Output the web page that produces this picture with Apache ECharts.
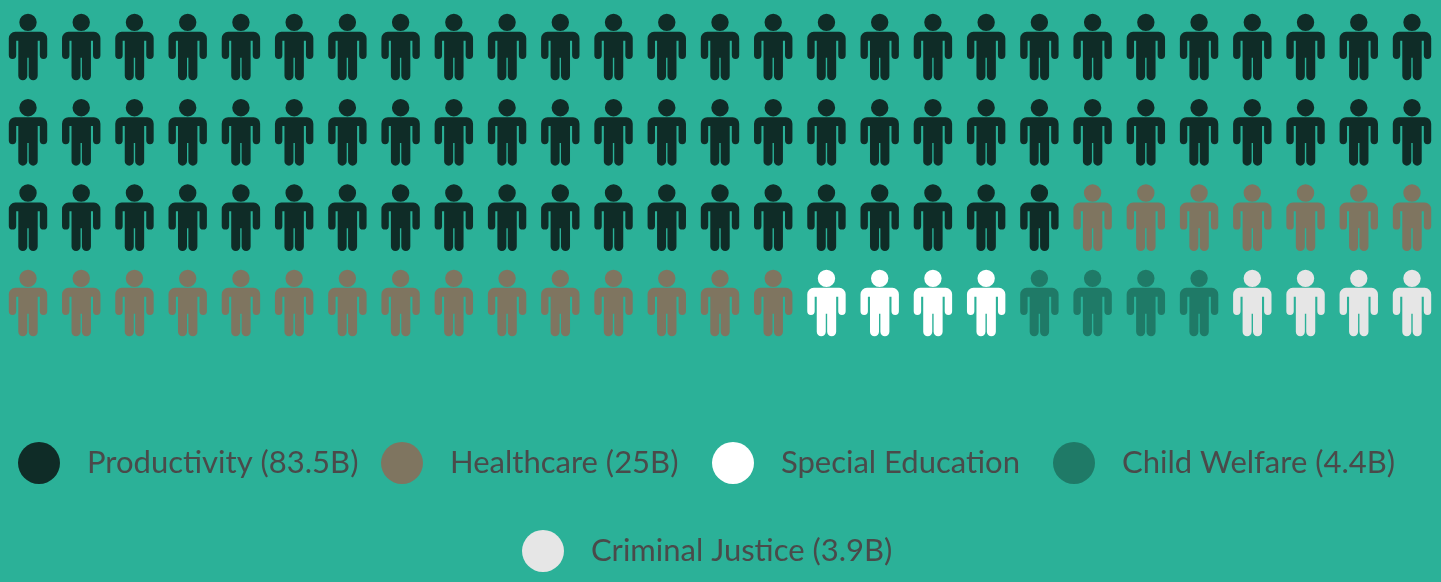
<!DOCTYPE html>
<html>
<head>
<meta charset="utf-8">
<title>Cost breakdown</title>
<script src="https://cdn.jsdelivr.net/npm/echarts@6/dist/echarts.min.js"></script>
<style>
html, body { margin: 0; padding: 0; background: #2bb198; }
#chartMain { width: 1441px; height: 582px; }
</style>
</head>
<body>
<div id="chartMain"></div>
<script>
var categories = ['Productivity (83.5B)', 'Healthcare (25B)', 'Special Education', 'Child Welfare (4.4B)', 'Criminal Justice (3.9B)'];
var peopleCounts = [74, 22, 4, 4, 4];
var colors = ['#0f2c27', '#7f7560', '#ffffff', '#1f7a67', '#e6e6e6'];
var perRow = 27;

var person = 'path://M19.2 0A8.7 8.7 0 1 1 19.2 17.4A8.7 8.7 0 1 1 19.2 0Z' +
    'M6.5 18.2H31.9A6.5 6.5 0 0 1 38.4 24.7V41.6A3.7 3.7 0 0 1 31 41.6V27H28.9V62.2A4.5 4.5 0 0 1 19.9 62.2V44H18.5V62.2A4.5 4.5 0 0 1 9.5 62.2V27H7.4V41.6A3.7 3.7 0 0 1 0 41.6V24.7A6.5 6.5 0 0 1 6.5 18.2Z';

var seriesList = [];
var n = 0;
categories.forEach(function (name, k) {
    var points = [];
    for (var i = 0; i < peopleCounts[k]; i++) {
        points.push([n % perRow, Math.floor(n / perRow)]);
        n++;
    }
    seriesList.push({
        name: name,
        type: 'scatter',
        symbol: person,
        symbolSize: [38.4, 66.7],
        itemStyle: { color: colors[k], opacity: 1 },
        clip: false,
        silent: true,
        data: points
    });
});

function legendBlock(name, left, top) {
    return {
        data: [name],
        left: left,
        top: top,
        padding: 0,
        icon: 'circle',
        itemWidth: 42,
        itemHeight: 42,
        selectedMode: false,
        textStyle: {
            color: '#4a4a4a',
            fontFamily: 'Lato',
            fontSize: 31,
            padding: [0, 0, 0, 22]
        }
    };
}

var myChart = echarts.init(document.getElementById('chartMain'));
myChart.setOption({
    animation: false,
    backgroundColor: '#2bb198',
    grid: { left: 28, right: 29, top: 47, height: 256 },
    xAxis: { type: 'value', min: 0, max: perRow - 1, show: false },
    yAxis: { type: 'value', min: 0, max: 3, inverse: true, show: false },
    legend: [
        legendBlock(categories[0], 18, 442),
        legendBlock(categories[1], 381, 442),
        legendBlock(categories[2], 712, 442),
        legendBlock(categories[3], 1053, 442),
        legendBlock(categories[4], 522, 530)
    ],
    series: seriesList
});
</script>
</body>
</html>
